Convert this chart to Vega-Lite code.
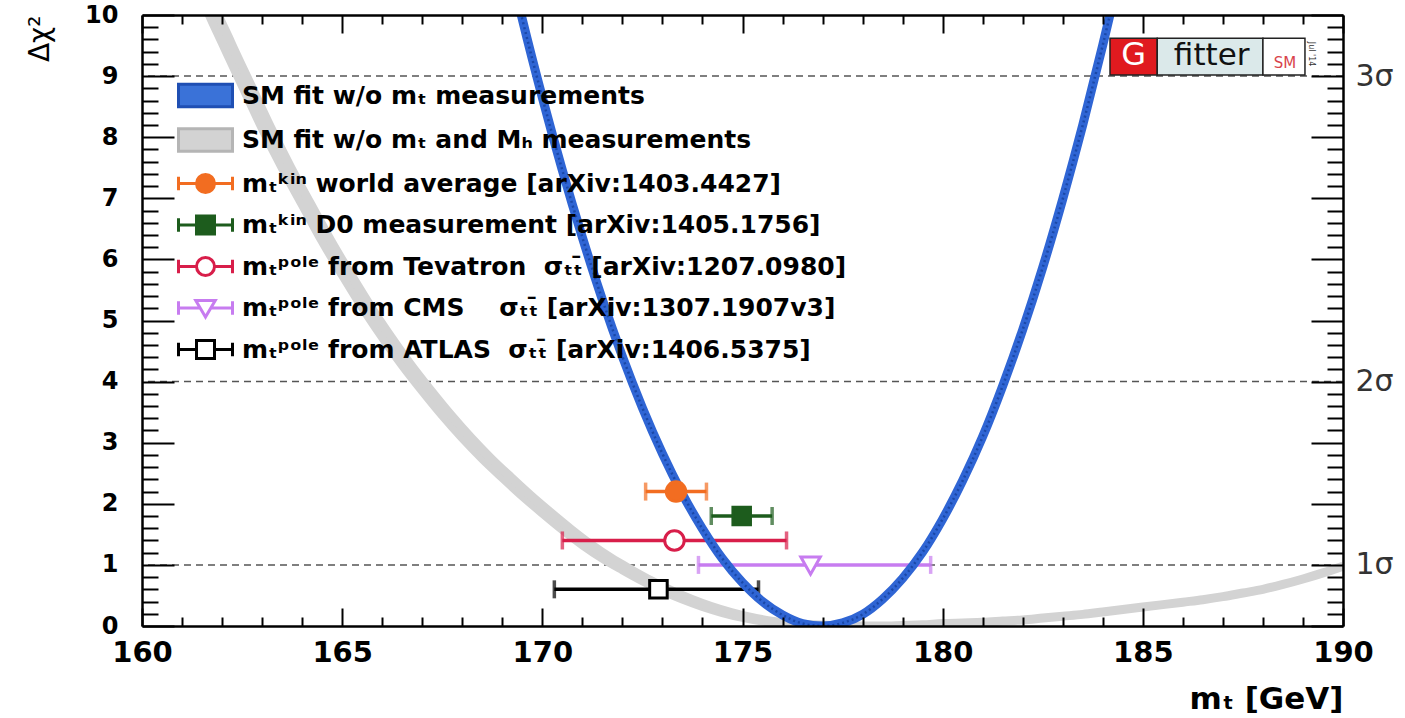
{
  "$schema": "https://vega.github.io/schema/vega-lite/v6.json",
  "width": 1201,
  "height": 611,
  "autosize": {"type": "none"},
  "padding": {"left": 142, "top": 15, "right": 62, "bottom": 92},
  "background": "white",
  "config": {"font": "DejaVu Sans", "view": {"stroke": null}},
  "data": {"values": [{}]},
  "datasets": {
    "levels": [{"level": 1}, {"level": 4}, {"level": 9}],
    "noMt_noMH": [
      {"mt": 161.3, "dchi2": 10.7}, {"mt": 161.5, "dchi2": 10.3}, {"mt": 162.0, "dchi2": 9.55},
      {"mt": 162.5, "dchi2": 8.85}, {"mt": 163.0, "dchi2": 8.15}, {"mt": 163.5, "dchi2": 7.5},
      {"mt": 164.0, "dchi2": 6.9}, {"mt": 164.5, "dchi2": 6.3}, {"mt": 165.0, "dchi2": 5.75},
      {"mt": 165.5, "dchi2": 5.22}, {"mt": 166.0, "dchi2": 4.73}, {"mt": 166.5, "dchi2": 4.27},
      {"mt": 167.0, "dchi2": 3.85}, {"mt": 167.5, "dchi2": 3.45}, {"mt": 168.0, "dchi2": 3.08},
      {"mt": 168.5, "dchi2": 2.74}, {"mt": 169.0, "dchi2": 2.43}, {"mt": 169.5, "dchi2": 2.13},
      {"mt": 170.0, "dchi2": 1.85}, {"mt": 170.5, "dchi2": 1.58}, {"mt": 171.0, "dchi2": 1.33},
      {"mt": 171.5, "dchi2": 1.11}, {"mt": 172.0, "dchi2": 0.92}, {"mt": 172.5, "dchi2": 0.74},
      {"mt": 173.0, "dchi2": 0.58}, {"mt": 173.5, "dchi2": 0.44}, {"mt": 174.0, "dchi2": 0.32},
      {"mt": 174.5, "dchi2": 0.22}, {"mt": 175.0, "dchi2": 0.14}, {"mt": 175.5, "dchi2": 0.08},
      {"mt": 176.0, "dchi2": 0.04}, {"mt": 176.5, "dchi2": 0.02}, {"mt": 177.0, "dchi2": 0.01},
      {"mt": 177.5, "dchi2": 0.0}, {"mt": 178.0, "dchi2": 0.0}, {"mt": 178.5, "dchi2": 0.0},
      {"mt": 179.0, "dchi2": 0.01}, {"mt": 179.5, "dchi2": 0.02}, {"mt": 180.0, "dchi2": 0.04},
      {"mt": 180.5, "dchi2": 0.05}, {"mt": 181.0, "dchi2": 0.06}, {"mt": 181.5, "dchi2": 0.08},
      {"mt": 182.0, "dchi2": 0.10}, {"mt": 182.5, "dchi2": 0.13}, {"mt": 183.0, "dchi2": 0.16},
      {"mt": 183.5, "dchi2": 0.19}, {"mt": 184.0, "dchi2": 0.23}, {"mt": 184.5, "dchi2": 0.27},
      {"mt": 185.0, "dchi2": 0.31}, {"mt": 185.5, "dchi2": 0.35}, {"mt": 186.0, "dchi2": 0.39},
      {"mt": 186.5, "dchi2": 0.43}, {"mt": 187.0, "dchi2": 0.48}, {"mt": 187.5, "dchi2": 0.54},
      {"mt": 188.0, "dchi2": 0.60}, {"mt": 188.5, "dchi2": 0.68}, {"mt": 189.0, "dchi2": 0.77},
      {"mt": 189.5, "dchi2": 0.87}, {"mt": 190.0, "dchi2": 0.98}
    ],
    "noMt_noMH_edge": [
      {"mt": 161.52, "dchi2": 10.7}, {"mt": 161.72, "dchi2": 10.3}, {"mt": 162.22, "dchi2": 9.55},
      {"mt": 162.72, "dchi2": 8.85}, {"mt": 163.22, "dchi2": 8.15}, {"mt": 163.72, "dchi2": 7.5},
      {"mt": 164.22, "dchi2": 6.9}, {"mt": 164.72, "dchi2": 6.3}, {"mt": 165.22, "dchi2": 5.75},
      {"mt": 165.72, "dchi2": 5.22}, {"mt": 166.22, "dchi2": 4.73}, {"mt": 166.72, "dchi2": 4.27},
      {"mt": 167.22, "dchi2": 3.85}, {"mt": 167.72, "dchi2": 3.45}, {"mt": 168.22, "dchi2": 3.08},
      {"mt": 168.72, "dchi2": 2.74}, {"mt": 169.22, "dchi2": 2.43}, {"mt": 169.72, "dchi2": 2.13},
      {"mt": 170.22, "dchi2": 1.85}, {"mt": 170.72, "dchi2": 1.58}, {"mt": 171.22, "dchi2": 1.33},
      {"mt": 171.72, "dchi2": 1.11}, {"mt": 172.22, "dchi2": 0.92}, {"mt": 172.72, "dchi2": 0.74},
      {"mt": 173.22, "dchi2": 0.58}, {"mt": 173.72, "dchi2": 0.44}, {"mt": 174.22, "dchi2": 0.32},
      {"mt": 174.72, "dchi2": 0.22}, {"mt": 175.22, "dchi2": 0.14}, {"mt": 175.72, "dchi2": 0.08},
      {"mt": 176.22, "dchi2": 0.04}, {"mt": 176.72, "dchi2": 0.02}, {"mt": 177.22, "dchi2": 0.01},
      {"mt": 177.72, "dchi2": 0.0}
    ],
    "noMt": [
      {"mt": 169.4, "dchi2": 10.2}, {"mt": 169.5, "dchi2": 9.93}, {"mt": 170.0, "dchi2": 8.65},
      {"mt": 170.5, "dchi2": 7.46}, {"mt": 171.0, "dchi2": 6.36}, {"mt": 171.5, "dchi2": 5.34},
      {"mt": 172.0, "dchi2": 4.41}, {"mt": 172.5, "dchi2": 3.57}, {"mt": 173.0, "dchi2": 2.82},
      {"mt": 173.5, "dchi2": 2.16}, {"mt": 174.0, "dchi2": 1.59}, {"mt": 174.5, "dchi2": 1.10},
      {"mt": 175.0, "dchi2": 0.71}, {"mt": 175.5, "dchi2": 0.40}, {"mt": 176.0, "dchi2": 0.18},
      {"mt": 176.5, "dchi2": 0.04}, {"mt": 177.0, "dchi2": 0.0}, {"mt": 177.5, "dchi2": 0.05},
      {"mt": 178.0, "dchi2": 0.19}, {"mt": 178.5, "dchi2": 0.44}, {"mt": 179.0, "dchi2": 0.78},
      {"mt": 179.5, "dchi2": 1.21}, {"mt": 180.0, "dchi2": 1.75}, {"mt": 180.5, "dchi2": 2.38},
      {"mt": 181.0, "dchi2": 3.10}, {"mt": 181.5, "dchi2": 3.93}, {"mt": 182.0, "dchi2": 4.85},
      {"mt": 182.5, "dchi2": 5.87}, {"mt": 183.0, "dchi2": 6.99}, {"mt": 183.5, "dchi2": 8.20},
      {"mt": 184.0, "dchi2": 9.51}, {"mt": 184.3, "dchi2": 10.34}
    ],
    "measurements": [
      {"name": "world", "mt": 173.34, "lo": 172.58, "hi": 174.10, "row": 2.2},
      {"name": "D0", "mt": 174.98, "lo": 174.22, "hi": 175.74, "row": 1.8},
      {"name": "Tevatron", "mt": 173.3, "lo": 170.5, "hi": 176.1, "row": 1.4},
      {"name": "CMS", "mt": 176.7, "lo": 173.9, "hi": 179.7, "row": 1.0},
      {"name": "ATLAS", "mt": 172.9, "lo": 170.3, "hi": 175.4, "row": 0.6}
    ],
    "entries": [
      {"entry": "SM fit w/o m\u209c measurements"},
      {"entry": "SM fit w/o m\u209c and M\u2095 measurements"},
      {"entry": "m\u209c\u1d4f\u2071\u207f world average [arXiv:1403.4427]"},
      {"entry": "m\u209c\u1d4f\u2071\u207f D0 measurement [arXiv:1405.1756]"},
      {"entry": "m\u209c\u1d56\u1d52\u02e1\u1d49 from Tevatron\u00a0 \u03c3\u209c\u209c\u0304 [arXiv:1207.0980]"},
      {"entry": "m\u209c\u1d56\u1d52\u02e1\u1d49 from CMS\u00a0\u00a0\u00a0 \u03c3\u209c\u209c\u0304 [arXiv:1307.1907v3]"},
      {"entry": "m\u209c\u1d56\u1d52\u02e1\u1d49 from ATLAS\u00a0 \u03c3\u209c\u209c\u0304 [arXiv:1406.5375]"}
    ]
  },
  "resolve": {
    "axis": {"x": "independent", "y": "independent"},
    "scale": {"color": "independent", "fill": "independent", "stroke": "independent", "shape": "independent"}
  },
  "layer": [
    {
      "data": {"name": "levels"},
      "mark": {"type": "rule", "stroke": "#555555", "strokeWidth": 1.5, "strokeDash": [7, 5]},
      "encoding": {
        "y": {"field": "level", "type": "quantitative", "axis": null, "scale": {"domain": [0, 10], "nice": false, "zero": false}}
      }
    },
    {
      "data": {"name": "noMt_noMH"},
      "mark": {"type": "line", "stroke": "#d3d3d3", "strokeWidth": 9, "interpolate": "monotone", "clip": true},
      "encoding": {
        "x": {
          "field": "mt", "type": "quantitative",
          "scale": {"domain": [160, 190], "nice": false, "zero": false},
          "axis": {
            "orient": "bottom",
            "values": [160,161,162,163,164,165,166,167,168,169,170,171,172,173,174,175,176,177,178,179,180,181,182,183,184,185,186,187,188,189,190],
            "labelExpr": "datum.value % 5 === 0 ? format(datum.value, 'd') : ''",
            "tickSize": {"expr": "datum.value % 5 === 0 ? -18 : -9"},
            "tickWidth": 2, "tickColor": "black",
            "domainWidth": 2.5, "domainColor": "black",
            "labelFont": "DejaVu Sans", "labelFontWeight": "bold", "labelFontSize": 29, "labelColor": "black",
            "labelPadding": 30, "labelFlush": false, "labelOverlap": false, "labelBaseline": "top",
            "grid": false,
            "title": "m\u209c [GeV]", "titleFont": "DejaVu Sans", "titleFontWeight": "bold", "titleFontSize": 31, "titleColor": "black",
            "titleX": 1201, "titleY": 82, "titleAlign": "right", "titleBaseline": "alphabetic",
            "zindex": 1
          }
        },
        "y": {
          "field": "dchi2", "type": "quantitative",
          "scale": {"domain": [0, 10], "nice": false, "zero": false},
          "axis": {
            "orient": "left",
            "values": [0,0.2,0.4,0.6,0.8,1,1.2,1.4,1.6,1.8,2,2.2,2.4,2.6,2.8,3,3.2,3.4,3.6,3.8,4,4.2,4.4,4.6,4.8,5,5.2,5.4,5.6,5.8,6,6.2,6.4,6.6,6.8,7,7.2,7.4,7.6,7.8,8,8.2,8.4,8.6,8.8,9,9.2,9.4,9.6,9.8,10],
            "labelExpr": "datum.value % 1 === 0 ? format(datum.value, 'd') : ''",
            "tickSize": {"expr": "datum.value % 1 === 0 ? -32 : -16"},
            "tickWidth": 2, "tickColor": "black",
            "domainWidth": 2.5, "domainColor": "black",
            "labelFont": "DejaVu Sans", "labelFontWeight": "bold", "labelFontSize": 24, "labelColor": "black",
            "labelPadding": 56, "labelFlush": false, "labelOverlap": false,
            "grid": false,
            "title": "\u0394\u03c7\u00b2", "titleFont": "DejaVu Sans", "titleFontWeight": "normal", "titleFontSize": 28, "titleColor": "black",
            "titleX": -102, "titleY": 0, "titleAngle": 270, "titleAlign": "right", "titleBaseline": "middle",
            "zindex": 1
          }
        }
      }
    },
    {
      "data": {"name": "noMt_noMH_edge"},
      "mark": {"type": "line", "stroke": "#d3d3d3", "strokeWidth": 9, "interpolate": "monotone", "clip": true},
      "encoding": {
        "x": {"field": "mt", "type": "quantitative", "axis": null},
        "y": {"field": "dchi2", "type": "quantitative", "axis": null}
      }
    },
    {
      "data": {"name": "measurements"},
      "mark": {"type": "rule", "strokeWidth": 3.5},
      "encoding": {
        "x": {"field": "lo", "type": "quantitative", "axis": null},
        "x2": {"field": "hi"},
        "y": {"field": "row", "type": "quantitative", "axis": null},
        "color": {"field": "name", "type": "nominal", "legend": null,
          "scale": {"domain": ["world", "D0", "Tevatron", "CMS", "ATLAS"], "range": ["#f26d21", "#1d5c1d", "#d81e4a", "#c77cf0", "#000000"]}}
      }
    },
    {
      "data": {"name": "measurements"},
      "mark": {"type": "tick", "orient": "vertical", "size": 18, "thickness": 3.5},
      "encoding": {
        "x": {"field": "lo", "type": "quantitative", "axis": null},
        "y": {"field": "row", "type": "quantitative", "axis": null},
        "color": {"field": "name", "type": "nominal", "legend": null,
          "scale": {"domain": ["world", "D0", "Tevatron", "CMS", "ATLAS"], "range": ["#f26d21", "#1d5c1d", "#d81e4a", "#c77cf0", "#000000"]}}
      }
    },
    {
      "data": {"name": "measurements"},
      "mark": {"type": "tick", "orient": "vertical", "size": 18, "thickness": 3.5},
      "encoding": {
        "x": {"field": "hi", "type": "quantitative", "axis": null},
        "y": {"field": "row", "type": "quantitative", "axis": null},
        "color": {"field": "name", "type": "nominal", "legend": null,
          "scale": {"domain": ["world", "D0", "Tevatron", "CMS", "ATLAS"], "range": ["#f26d21", "#1d5c1d", "#d81e4a", "#c77cf0", "#000000"]}}
      }
    },
    {
      "data": {"name": "noMt"},
      "mark": {"type": "line", "stroke": "#2f65d4", "strokeWidth": 9, "interpolate": "monotone", "clip": true},
      "encoding": {
        "x": {
          "field": "mt", "type": "quantitative",
          "scale": {"domain": [160, 190], "nice": false, "zero": false},
          "axis": {
            "orient": "top",
            "values": [160,161,162,163,164,165,166,167,168,169,170,171,172,173,174,175,176,177,178,179,180,181,182,183,184,185,186,187,188,189,190],
            "labels": false,
            "tickSize": {"expr": "datum.value % 5 === 0 ? -18 : -9"},
            "tickWidth": 2, "tickColor": "black",
            "domainWidth": 2.5, "domainColor": "black",
            "grid": false, "title": null, "zindex": 1
          }
        },
        "y": {
          "field": "dchi2", "type": "quantitative",
          "scale": {"domain": [0, 10], "nice": false, "zero": false},
          "axis": {
            "orient": "right",
            "values": [0,0.2,0.4,0.6,0.8,1,1.2,1.4,1.6,1.8,2,2.2,2.4,2.6,2.8,3,3.2,3.4,3.6,3.8,4,4.2,4.4,4.6,4.8,5,5.2,5.4,5.6,5.8,6,6.2,6.4,6.6,6.8,7,7.2,7.4,7.6,7.8,8,8.2,8.4,8.6,8.8,9,9.2,9.4,9.6,9.8,10],
            "labelExpr": "datum.value === 1 ? '1\u03c3' : datum.value === 4 ? '2\u03c3' : datum.value === 9 ? '3\u03c3' : ''",
            "tickSize": {"expr": "datum.value % 1 === 0 ? -32 : -16"},
            "tickWidth": 2, "tickColor": "black",
            "domainWidth": 2.5, "domainColor": "black",
            "labelFont": "DejaVu Sans", "labelFontWeight": "normal", "labelFontSize": 30, "labelColor": "#333333",
            "labelPadding": 44, "labelFlush": false, "labelOverlap": false,
            "grid": false, "title": null, "zindex": 1
          }
        }
      }
    },
    {
      "data": {"name": "noMt"},
      "mark": {"type": "line", "stroke": "#1a48a8", "strokeWidth": 2.5, "strokeDash": [2, 3], "interpolate": "monotone", "clip": true},
      "encoding": {
        "x": {"field": "mt", "type": "quantitative", "axis": null},
        "y": {"field": "dchi2", "type": "quantitative", "axis": null}
      }
    },
    {
      "data": {"name": "measurements"},
      "mark": {"type": "point", "size": 380, "strokeWidth": 3, "opacity": 1, "fillOpacity": 1},
      "encoding": {
        "x": {"field": "mt", "type": "quantitative", "axis": null},
        "y": {"field": "row", "type": "quantitative", "axis": null},
        "shape": {"field": "name", "type": "nominal", "legend": null,
          "scale": {"domain": ["world", "D0", "Tevatron", "CMS", "ATLAS"],
            "range": ["M-1,0A1,1 0 1,0 1,0A1,1 0 1,0 -1,0Z", "M-0.9,-0.9H0.9V0.9H-0.9Z", "M-1,0A1,1 0 1,0 1,0A1,1 0 1,0 -1,0Z", "M-1,-0.8H1L0,0.95Z", "M-0.9,-0.9H0.9V0.9H-0.9Z"]}},
        "fill": {"field": "name", "type": "nominal", "legend": null,
          "scale": {"domain": ["world", "D0", "Tevatron", "CMS", "ATLAS"], "range": ["#f26d21", "#1d5c1d", "#ffffff", "#ffffff", "#ffffff"]}},
        "stroke": {"field": "name", "type": "nominal", "legend": null,
          "scale": {"domain": ["world", "D0", "Tevatron", "CMS", "ATLAS"], "range": ["#f26d21", "#1d5c1d", "#d81e4a", "#c77cf0", "#000000"]}}
      }
    },
    {
      "mark": {"type": "rect", "fill": "#e01a1f", "stroke": "#222222", "strokeWidth": 1.5},
      "encoding": {
        "x": {"datum": 184.18, "axis": null}, "x2": {"datum": 185.36},
        "y": {"datum": 9.02, "axis": null}, "y2": {"datum": 9.62}
      }
    },
    {
      "mark": {"type": "rect", "fill": "#dbe9ea", "stroke": "#222222", "strokeWidth": 1.5},
      "encoding": {
        "x": {"datum": 185.36, "axis": null}, "x2": {"datum": 188.0},
        "y": {"datum": 9.02, "axis": null}, "y2": {"datum": 9.62}
      }
    },
    {
      "mark": {"type": "rect", "fill": "#ffffff", "stroke": "#222222", "strokeWidth": 1.5},
      "encoding": {
        "x": {"datum": 188.0, "axis": null}, "x2": {"datum": 189.05},
        "y": {"datum": 9.02, "axis": null}, "y2": {"datum": 9.62}
      }
    },
    {
      "mark": {"type": "text", "text": "G", "font": "DejaVu Sans", "fontSize": 32, "color": "#ffffff", "align": "center", "baseline": "alphabetic"},
      "encoding": {"x": {"datum": 184.77, "axis": null}, "y": {"datum": 9.18, "axis": null}}
    },
    {
      "mark": {"type": "text", "text": "fitter", "font": "DejaVu Sans", "fontSize": 31, "color": "#111111", "align": "center", "baseline": "alphabetic"},
      "encoding": {"x": {"datum": 186.72, "axis": null}, "y": {"datum": 9.18, "axis": null}}
    },
    {
      "mark": {"type": "text", "text": "SM", "font": "DejaVu Sans", "fontSize": 15, "color": "#d8434b", "align": "center", "baseline": "alphabetic"},
      "encoding": {"x": {"datum": 188.55, "axis": null}, "y": {"datum": 9.13, "axis": null}}
    },
    {
      "mark": {"type": "text", "text": "Jul '14", "font": "DejaVu Sans", "fontSize": 8, "color": "#333333", "align": "center", "baseline": "middle", "angle": 90},
      "encoding": {"x": {"datum": 189.2, "axis": null}, "y": {"datum": 9.36, "axis": null}}
    },
    {
      "data": {"name": "entries"},
      "mark": {"type": "point", "filled": true, "opacity": 0},
      "encoding": {
        "color": {
          "field": "entry", "type": "nominal",
          "scale": {
            "domain": [
              "SM fit w/o m\u209c measurements",
              "SM fit w/o m\u209c and M\u2095 measurements",
              "m\u209c\u1d4f\u2071\u207f world average [arXiv:1403.4427]",
              "m\u209c\u1d4f\u2071\u207f D0 measurement [arXiv:1405.1756]",
              "m\u209c\u1d56\u1d52\u02e1\u1d49 from Tevatron\u00a0 \u03c3\u209c\u209c\u0304 [arXiv:1207.0980]",
              "m\u209c\u1d56\u1d52\u02e1\u1d49 from CMS\u00a0\u00a0\u00a0 \u03c3\u209c\u209c\u0304 [arXiv:1307.1907v3]",
              "m\u209c\u1d56\u1d52\u02e1\u1d49 from ATLAS\u00a0 \u03c3\u209c\u209c\u0304 [arXiv:1406.5375]"
            ],
            "range": ["#3a72d8", "#d3d3d3", "#f26d21", "#1d5c1d", "#ffffff", "#ffffff", "#ffffff"]
          },
          "legend": {
            "title": null, "orient": "none", "legendX": 47, "legendY": 64, "padding": 0,
            "symbolSize": 900, "symbolOpacity": 1, "symbolStrokeWidth": 3,
            "labelFont": "DejaVu Sans", "labelFontWeight": "bold", "labelFontSize": 25, "labelColor": "black",
            "labelLimit": 1000, "labelOffset": 20, "rowPadding": 9.5
          }
        },
        "stroke": {
          "field": "entry", "type": "nominal",
          "scale": {
            "domain": [
              "SM fit w/o m\u209c measurements",
              "SM fit w/o m\u209c and M\u2095 measurements",
              "m\u209c\u1d4f\u2071\u207f world average [arXiv:1403.4427]",
              "m\u209c\u1d4f\u2071\u207f D0 measurement [arXiv:1405.1756]",
              "m\u209c\u1d56\u1d52\u02e1\u1d49 from Tevatron\u00a0 \u03c3\u209c\u209c\u0304 [arXiv:1207.0980]",
              "m\u209c\u1d56\u1d52\u02e1\u1d49 from CMS\u00a0\u00a0\u00a0 \u03c3\u209c\u209c\u0304 [arXiv:1307.1907v3]",
              "m\u209c\u1d56\u1d52\u02e1\u1d49 from ATLAS\u00a0 \u03c3\u209c\u209c\u0304 [arXiv:1406.5375]"
            ],
            "range": ["#1f4fb3", "#b5b5b5", "#f26d21", "#1d5c1d", "#d81e4a", "#c77cf0", "#000000"]
          },
          "legend": {
            "title": null, "orient": "none", "legendX": 47, "legendY": 64, "padding": 0,
            "symbolSize": 900, "symbolOpacity": 1, "symbolStrokeWidth": 3,
            "labelFont": "DejaVu Sans", "labelFontWeight": "bold", "labelFontSize": 25, "labelColor": "black",
            "labelLimit": 1000, "labelOffset": 20, "rowPadding": 9.5
          }
        },
        "shape": {
          "field": "entry", "type": "nominal",
          "scale": {
            "domain": [
              "SM fit w/o m\u209c measurements",
              "SM fit w/o m\u209c and M\u2095 measurements",
              "m\u209c\u1d4f\u2071\u207f world average [arXiv:1403.4427]",
              "m\u209c\u1d4f\u2071\u207f D0 measurement [arXiv:1405.1756]",
              "m\u209c\u1d56\u1d52\u02e1\u1d49 from Tevatron\u00a0 \u03c3\u209c\u209c\u0304 [arXiv:1207.0980]",
              "m\u209c\u1d56\u1d52\u02e1\u1d49 from CMS\u00a0\u00a0\u00a0 \u03c3\u209c\u209c\u0304 [arXiv:1307.1907v3]",
              "m\u209c\u1d56\u1d52\u02e1\u1d49 from ATLAS\u00a0 \u03c3\u209c\u209c\u0304 [arXiv:1406.5375]"
            ],
            "range": [
              "M-1.8,-0.75H1.8V0.75H-1.8Z",
              "M-1.8,-0.75H1.8V0.75H-1.8Z",
              "M-1.8,0H-0.6M0.6,0H1.8M-1.8,-0.45V0.45M1.8,-0.45V0.45M-0.6,0A0.6,0.6 0 1,0 0.6,0A0.6,0.6 0 1,0 -0.6,0Z",
              "M-1.8,0H-0.6M0.6,0H1.8M-1.8,-0.45V0.45M1.8,-0.45V0.45M-0.6,-0.6H0.6V0.6H-0.6Z",
              "M-1.8,0H-0.6M0.6,0H1.8M-1.8,-0.45V0.45M1.8,-0.45V0.45M-0.6,0A0.6,0.6 0 1,0 0.6,0A0.6,0.6 0 1,0 -0.6,0Z",
              "M-1.8,0H-0.36M0.36,0H1.8M-1.8,-0.45V0.45M1.8,-0.45V0.45M-0.65,-0.5H0.65L0,0.6Z",
              "M-1.8,0H-0.6M0.6,0H1.8M-1.8,-0.45V0.45M1.8,-0.45V0.45M-0.6,-0.6H0.6V0.6H-0.6Z"
            ]
          },
          "legend": {
            "title": null, "orient": "none", "legendX": 47, "legendY": 64, "padding": 0,
            "symbolSize": 900, "symbolOpacity": 1, "symbolStrokeWidth": 3,
            "labelFont": "DejaVu Sans", "labelFontWeight": "bold", "labelFontSize": 25, "labelColor": "black",
            "labelLimit": 1000, "labelOffset": 20, "rowPadding": 9.5
          }
        }
      }
    }
  ]
}
